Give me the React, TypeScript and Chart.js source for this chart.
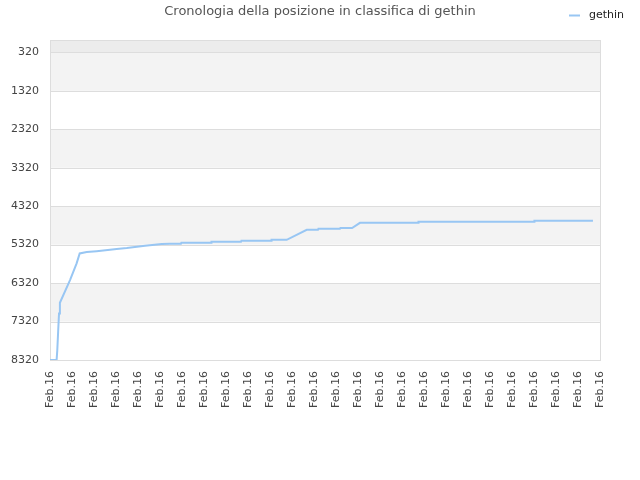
import React, { useEffect, useRef } from 'react';
import { Chart, registerables } from 'chart.js';

Chart.register(...registerables);

const chartTitle = 'Cronologia della posizione in classifica di gethin';
const seriesName = 'gethin';

// position along the x axis, in tick units (0 = first "Feb.16")
const pointX = [
  0, 0.3, 0.33, 0.37, 0.41, 0.45, 0.91, 1.21, 1.35, 1.67, 2.12, 3.03, 3.49, 4.32, 5.08,
  5.45, 5.95, 5.97, 7.32, 7.34, 8.68, 8.7, 10.05, 10.07, 10.76, 11.67, 12.18, 12.2, 13.18,
  13.2, 13.73, 14.09, 16.73, 16.75, 22.0, 22.02, 24.68,
];
const pointRank = [
  8320, 8320, 8078, 7584, 7108, 6832, 6242, 5808, 5549, 5515, 5490, 5437, 5411, 5350, 5307,
  5300, 5300, 5273, 5273, 5247, 5247, 5221, 5221, 5195, 5195, 4935, 4935, 4909, 4909,
  4890, 4890, 4753, 4753, 4727, 4727, 4701, 4701,
];

const xTickLabels = [
  'Feb.16', 'Feb.16', 'Feb.16', 'Feb.16', 'Feb.16', 'Feb.16', 'Feb.16', 'Feb.16', 'Feb.16',
  'Feb.16', 'Feb.16', 'Feb.16', 'Feb.16', 'Feb.16', 'Feb.16', 'Feb.16', 'Feb.16', 'Feb.16',
  'Feb.16', 'Feb.16', 'Feb.16', 'Feb.16', 'Feb.16', 'Feb.16', 'Feb.16', 'Feb.16',
];
const yTicks = [320, 1320, 2320, 3320, 4320, 5320, 6320, 7320, 8320];

const lineColor = '#98c6f3';
const font = 'DejaVu Sans';

const bandsAndHeader = {
  id: 'bandsAndHeader',
  beforeDatasetsDraw(chart: any) {
    const { ctx, chartArea: a, scales } = chart;
    const y = scales.y;
    ctx.save();
    // top strip above the first tick
    ctx.fillStyle = '#ececec';
    ctx.fillRect(a.left, a.top, a.right - a.left, y.getPixelForValue(yTicks[0]) - a.top);
    for (let i = 0; i < yTicks.length - 1; i++) {
      if (i % 2 !== 0) continue;
      const t = y.getPixelForValue(yTicks[i]);
      const b = y.getPixelForValue(yTicks[i + 1]);
      ctx.fillStyle = '#f3f3f3';
      ctx.fillRect(a.left, t, a.right - a.left, b - t);
    }
    ctx.strokeStyle = '#dddddd';
    ctx.lineWidth = 1;
    for (const v of yTicks) {
      const p = Math.round(y.getPixelForValue(v)) + 0.5;
      ctx.beginPath();
      ctx.moveTo(a.left, p);
      ctx.lineTo(a.right, p);
      ctx.stroke();
    }
    ctx.strokeRect(a.left + 0.5, a.top + 0.5, a.right - a.left, a.bottom - a.top);
    ctx.restore();
  },
  afterDraw(chart: any) {
    const { ctx } = chart;
    ctx.save();
    ctx.fillStyle = '#555555';
    ctx.font = `13px "${font}"`;
    ctx.textAlign = 'center';
    ctx.textBaseline = 'middle';
    ctx.fillText(chartTitle, 320, 12);
    ctx.strokeStyle = lineColor;
    ctx.lineWidth = 2;
    ctx.beginPath();
    ctx.moveTo(569, 15.5);
    ctx.lineTo(580, 15.5);
    ctx.stroke();
    ctx.fillStyle = '#222222';
    ctx.font = `11px "${font}"`;
    ctx.textAlign = 'left';
    ctx.fillText(seriesName, 589, 15);
    ctx.restore();
  },
};

export default function App() {
  const canvasRef = useRef<HTMLCanvasElement>(null);
  const chartInstance = useRef<Chart | null>(null);

  useEffect(() => {
    if (!canvasRef.current) return;
    const ctx = canvasRef.current.getContext('2d');
    if (!ctx) return;

    chartInstance.current = new Chart(ctx, {
      type: 'line',
      data: {
        datasets: [
          {
            label: seriesName,
            data: pointX.map((x, i) => ({ x, y: pointRank[i] })),
            borderColor: lineColor,
            backgroundColor: lineColor,
            borderWidth: 2,
            pointRadius: 0,
            tension: 0,
          },
        ],
      },
      options: {
        responsive: false,
        animation: false,
        layout: { padding: { top: 40, right: 40, left: 0, bottom: 0 } },
        plugins: {
          legend: { display: false },
          title: { display: false },
          tooltip: { enabled: false },
        },
        scales: {
          x: {
            type: 'linear',
            min: 0,
            max: xTickLabels.length - 1,
            grid: { display: false, drawTicks: false },
            border: { display: false },
            afterBuildTicks: (s: any) => {
              s.ticks = xTickLabels.map((_, i) => ({ value: i }));
            },
            afterFit: (s: any) => {
              s.height = 120;
              s.paddingLeft = 0;
              s.paddingRight = 0;
            },
            ticks: {
              autoSkip: false,
              minRotation: 90,
              maxRotation: 90,
              padding: 11,
              color: '#444444',
              font: { family: font, size: 11 },
              callback: (_v: any, i: number) => xTickLabels[i],
            },
          },
          y: {
            type: 'linear',
            reverse: true,
            min: 0,
            max: 8320,
            grid: { display: false, drawTicks: false },
            border: { display: false },
            afterBuildTicks: (s: any) => {
              s.ticks = yTicks.map((v) => ({ value: v }));
            },
            afterFit: (s: any) => {
              s.width = 50;
              s.paddingTop = 0;
              s.paddingBottom = 0;
            },
            ticks: {
              padding: 11,
              color: '#444444',
              font: { family: font, size: 11 },
              callback: (v: any) => String(v),
            },
          },
        },
      },
      plugins: [bandsAndHeader],
    });

    return () => {
      chartInstance.current?.destroy();
    };
  }, []);

  return (
    <div style={{ position: 'absolute', left: 0, top: 0, width: 640, height: 480, background: '#fff' }}>
      <canvas ref={canvasRef} width={640} height={480} />
    </div>
  );
}
